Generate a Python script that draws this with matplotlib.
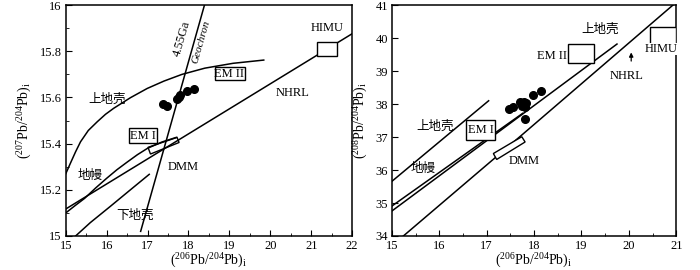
import matplotlib
matplotlib.use("Agg")
import matplotlib.pyplot as plt
from matplotlib.patches import Rectangle, Polygon
from matplotlib.ticker import MultipleLocator

plt.rcParams['font.family'] = ['Liberation Serif', 'Noto Sans CJK SC']
plt.rcParams['mathtext.fontset'] = 'custom'
plt.rcParams['mathtext.rm'] = 'Liberation Serif'
plt.rcParams['mathtext.it'] = 'Liberation Serif:italic'
plt.rcParams['font.size'] = 9

# ---- left panel: 207Pb/204Pb vs 206Pb/204Pb ----
geochron_x = [16.83, 18.39]
geochron_y = [15.02, 16.0]
upper_crust_x = [15.0, 15.12, 15.24, 15.36, 15.55, 15.77, 15.97, 16.17, 16.58, 16.99,
                 17.40, 17.84, 18.4, 19.09, 19.84]
upper_crust_y = [15.27, 15.318, 15.365, 15.408, 15.457, 15.495, 15.527, 15.553, 15.599,
                 15.639, 15.671, 15.700, 15.727, 15.748, 15.762]
mantle_x = [15.0, 15.23, 15.46, 15.73, 16.0, 16.25, 16.5, 16.75, 17.0, 17.35, 17.7]
mantle_y = [15.10, 15.132, 15.163, 15.208, 15.25, 15.287, 15.32, 15.352, 15.38, 15.407, 15.427]
nhrl_x = [15.0, 22.0]
nhrl_y = [15.117, 15.876]
lower_crust_x = [15.24, 15.6, 16.08, 16.6, 17.04]
lower_crust_y = [15.0, 15.058, 15.127, 15.203, 15.267]
samples_x = [17.38, 17.47, 17.72, 17.76, 17.80, 17.97, 18.13]
samples_y = [15.572, 15.562, 15.592, 15.603, 15.610, 15.628, 15.637]
# boxes: (x0, y0, width, height)
boxes_l = {'EM II': (18.64, 15.674, 0.75, 0.059),
           'HIMU': (21.14, 15.78, 0.49, 0.06),
           'EM I': (16.54, 15.401, 0.69, 0.065)}
dmm_l = [(17.01, 15.384), (17.72, 15.427), (17.77, 15.405), (17.07, 15.355)]

# ---- right panel: 208Pb/204Pb vs 206Pb/204Pb ----
r_upper_x = [15.0, 17.04]
r_upper_y = [35.66, 38.10]
r_mantle_x = [15.0, 17.76]
r_mantle_y = [34.91, 37.72]
r_third_x = [15.0, 19.75]
r_third_y = [34.76, 39.82]
r_nhrl_x = [15.24, 17.78, 20.93]
r_nhrl_y = [34.0, 37.11, 41.0]
r_samples_x = [17.46, 17.55, 17.71, 17.78, 17.75, 17.80, 17.83, 17.97, 18.14, 17.80]
r_samples_y = [37.86, 37.92, 38.05, 38.07, 37.95, 37.90, 38.02, 38.27, 38.39, 37.54]
boxes_r = {'EM II': (18.71, 39.24, 0.55, 0.58),
           'HIMU': (20.44, 39.82, 0.56, 0.51),
           'EM I': (16.56, 36.91, 0.62, 0.61)}
dmm_r = [(17.14, 36.50), (17.74, 37.01), (17.81, 36.85), (17.21, 36.32)]

fig = plt.figure(figsize=(7, 2.7), dpi=100)
ax1 = fig.add_axes([0.094, 0.126, 0.409, 0.855])
ax2 = fig.add_axes([0.56, 0.126, 0.406, 0.855])

lw = 1.1
cjk = ['Noto Sans CJK SC']

# left
ax1.plot(geochron_x, geochron_y, 'k-', lw=lw)
ax1.plot(upper_crust_x, upper_crust_y, 'k-', lw=lw)
ax1.plot(mantle_x, mantle_y, 'k-', lw=lw)
ax1.plot(nhrl_x, nhrl_y, 'k-', lw=lw)
ax1.plot(lower_crust_x, lower_crust_y, 'k-', lw=lw)
ax1.plot(samples_x, samples_y, 'ko', ms=5.5)
for name, (x0, y0, w, h) in boxes_l.items():
    ax1.add_patch(Rectangle((x0, y0), w, h, fill=True, fc='white', ec='k', lw=1.0, zorder=3))
ax1.add_patch(Polygon(dmm_l, closed=True, fill=False, ec='k', lw=1.0))
ax1.text(19.0, 15.703, 'EM II', ha='center', va='center', fontsize=9, zorder=4)
ax1.text(16.88, 15.433, 'EM I', ha='center', va='center', fontsize=9, zorder=4)
ax1.text(21.4, 15.9, 'HIMU', ha='center', va='center', fontsize=9)
ax1.text(20.55, 15.62, 'NHRL', ha='center', va='center', fontsize=9)
ax1.text(17.87, 15.30, 'DMM', ha='center', va='center', fontsize=9)
ax1.text(16.0, 15.59, '上地壳', ha='center', va='center', fontsize=9, family=cjk)
ax1.text(15.6, 15.26, '地幔', ha='center', va='center', fontsize=9, family=cjk)
ax1.text(16.69, 15.09, '下地壳', ha='center', va='center', fontsize=9, family=cjk)
ax1.text(17.85, 15.856, '4.55Ga', ha='center', va='center', rotation=74, fontsize=9)
ax1.text(18.32, 15.84, 'Geochron', ha='center', va='center', rotation=74,
         fontsize=8, style='italic')
ax1.set_xlim(15, 22)
ax1.set_ylim(15, 16)
ax1.set_xticks(range(15, 23))
ax1.set_yticks([15, 15.2, 15.4, 15.6, 15.8, 16])
ax1.set_yticklabels(['15', '15.2', '15.4', '15.6', '15.8', '16'])
ax1.xaxis.set_minor_locator(MultipleLocator(0.5))
ax1.yaxis.set_minor_locator(MultipleLocator(0.1))
ax1.set_xlabel(r'$(^{206}\mathrm{Pb}/^{204}\mathrm{Pb})_\mathrm{i}$', fontsize=10, labelpad=0)
ax1.set_ylabel(r'$(^{207}\mathrm{Pb}/^{204}\mathrm{Pb})_\mathrm{i}$', fontsize=10, labelpad=4)

# right
ax2.plot(r_upper_x, r_upper_y, 'k-', lw=lw)
ax2.plot(r_mantle_x, r_mantle_y, 'k-', lw=lw)
ax2.plot(r_third_x, r_third_y, 'k-', lw=lw)
ax2.plot(r_nhrl_x, r_nhrl_y, 'k-', lw=lw)
ax2.plot(r_samples_x, r_samples_y, 'ko', ms=5.5)
for name, (x0, y0, w, h) in boxes_r.items():
    ax2.add_patch(Rectangle((x0, y0), w, h, fill=True, fc='white', ec='k', lw=1.0, zorder=3))
ax2.add_patch(Polygon(dmm_r, closed=True, fill=True, fc='white', ec='k', lw=1.0, zorder=3))
ax2.text(18.38, 39.46, 'EM II', ha='center', va='center', fontsize=9, zorder=4)
ax2.text(16.87, 37.2, 'EM I', ha='center', va='center', fontsize=9, zorder=4)
ax2.text(20.69, 39.66, 'HIMU', ha='center', va='center', fontsize=9, zorder=4,
         bbox=dict(fc='white', ec='none', pad=0))
ax2.text(19.96, 38.85, 'NHRL', ha='center', va='center', fontsize=9)
ax2.annotate('', xy=(20.05, 39.65), xytext=(20.05, 39.22),
             arrowprops=dict(arrowstyle='-|>', color='k', lw=0.9, mutation_scale=6))
ax2.text(17.78, 36.26, 'DMM', ha='center', va='center', fontsize=9)
ax2.text(19.4, 40.28, '上地壳', ha='center', va='center', fontsize=9, family=cjk)
ax2.text(15.91, 37.34, '上地壳', ha='center', va='center', fontsize=9, family=cjk)
ax2.text(15.66, 36.04, '地幔', ha='center', va='center', fontsize=9, family=cjk)
ax2.set_xlim(15, 21)
ax2.set_ylim(34, 41)
ax2.set_xticks(range(15, 22))
ax2.set_yticks(range(34, 42))
ax2.xaxis.set_minor_locator(MultipleLocator(0.5))
ax2.set_xlabel(r'$(^{206}\mathrm{Pb}/^{204}\mathrm{Pb})_\mathrm{i}$', fontsize=10, labelpad=0)
ax2.set_ylabel(r'$(^{208}\mathrm{Pb}/^{204}\mathrm{Pb})_\mathrm{i}$', fontsize=10, labelpad=4)

for ax in (ax1, ax2):
    ax.tick_params(which='both', direction='in', labelsize=9, pad=3)
    ax.tick_params(which='major', length=4)
    ax.tick_params(which='minor', length=2.5)
    for s in ax.spines.values():
        s.set_linewidth(1.1)

fig.savefig('out.png', dpi=100)
